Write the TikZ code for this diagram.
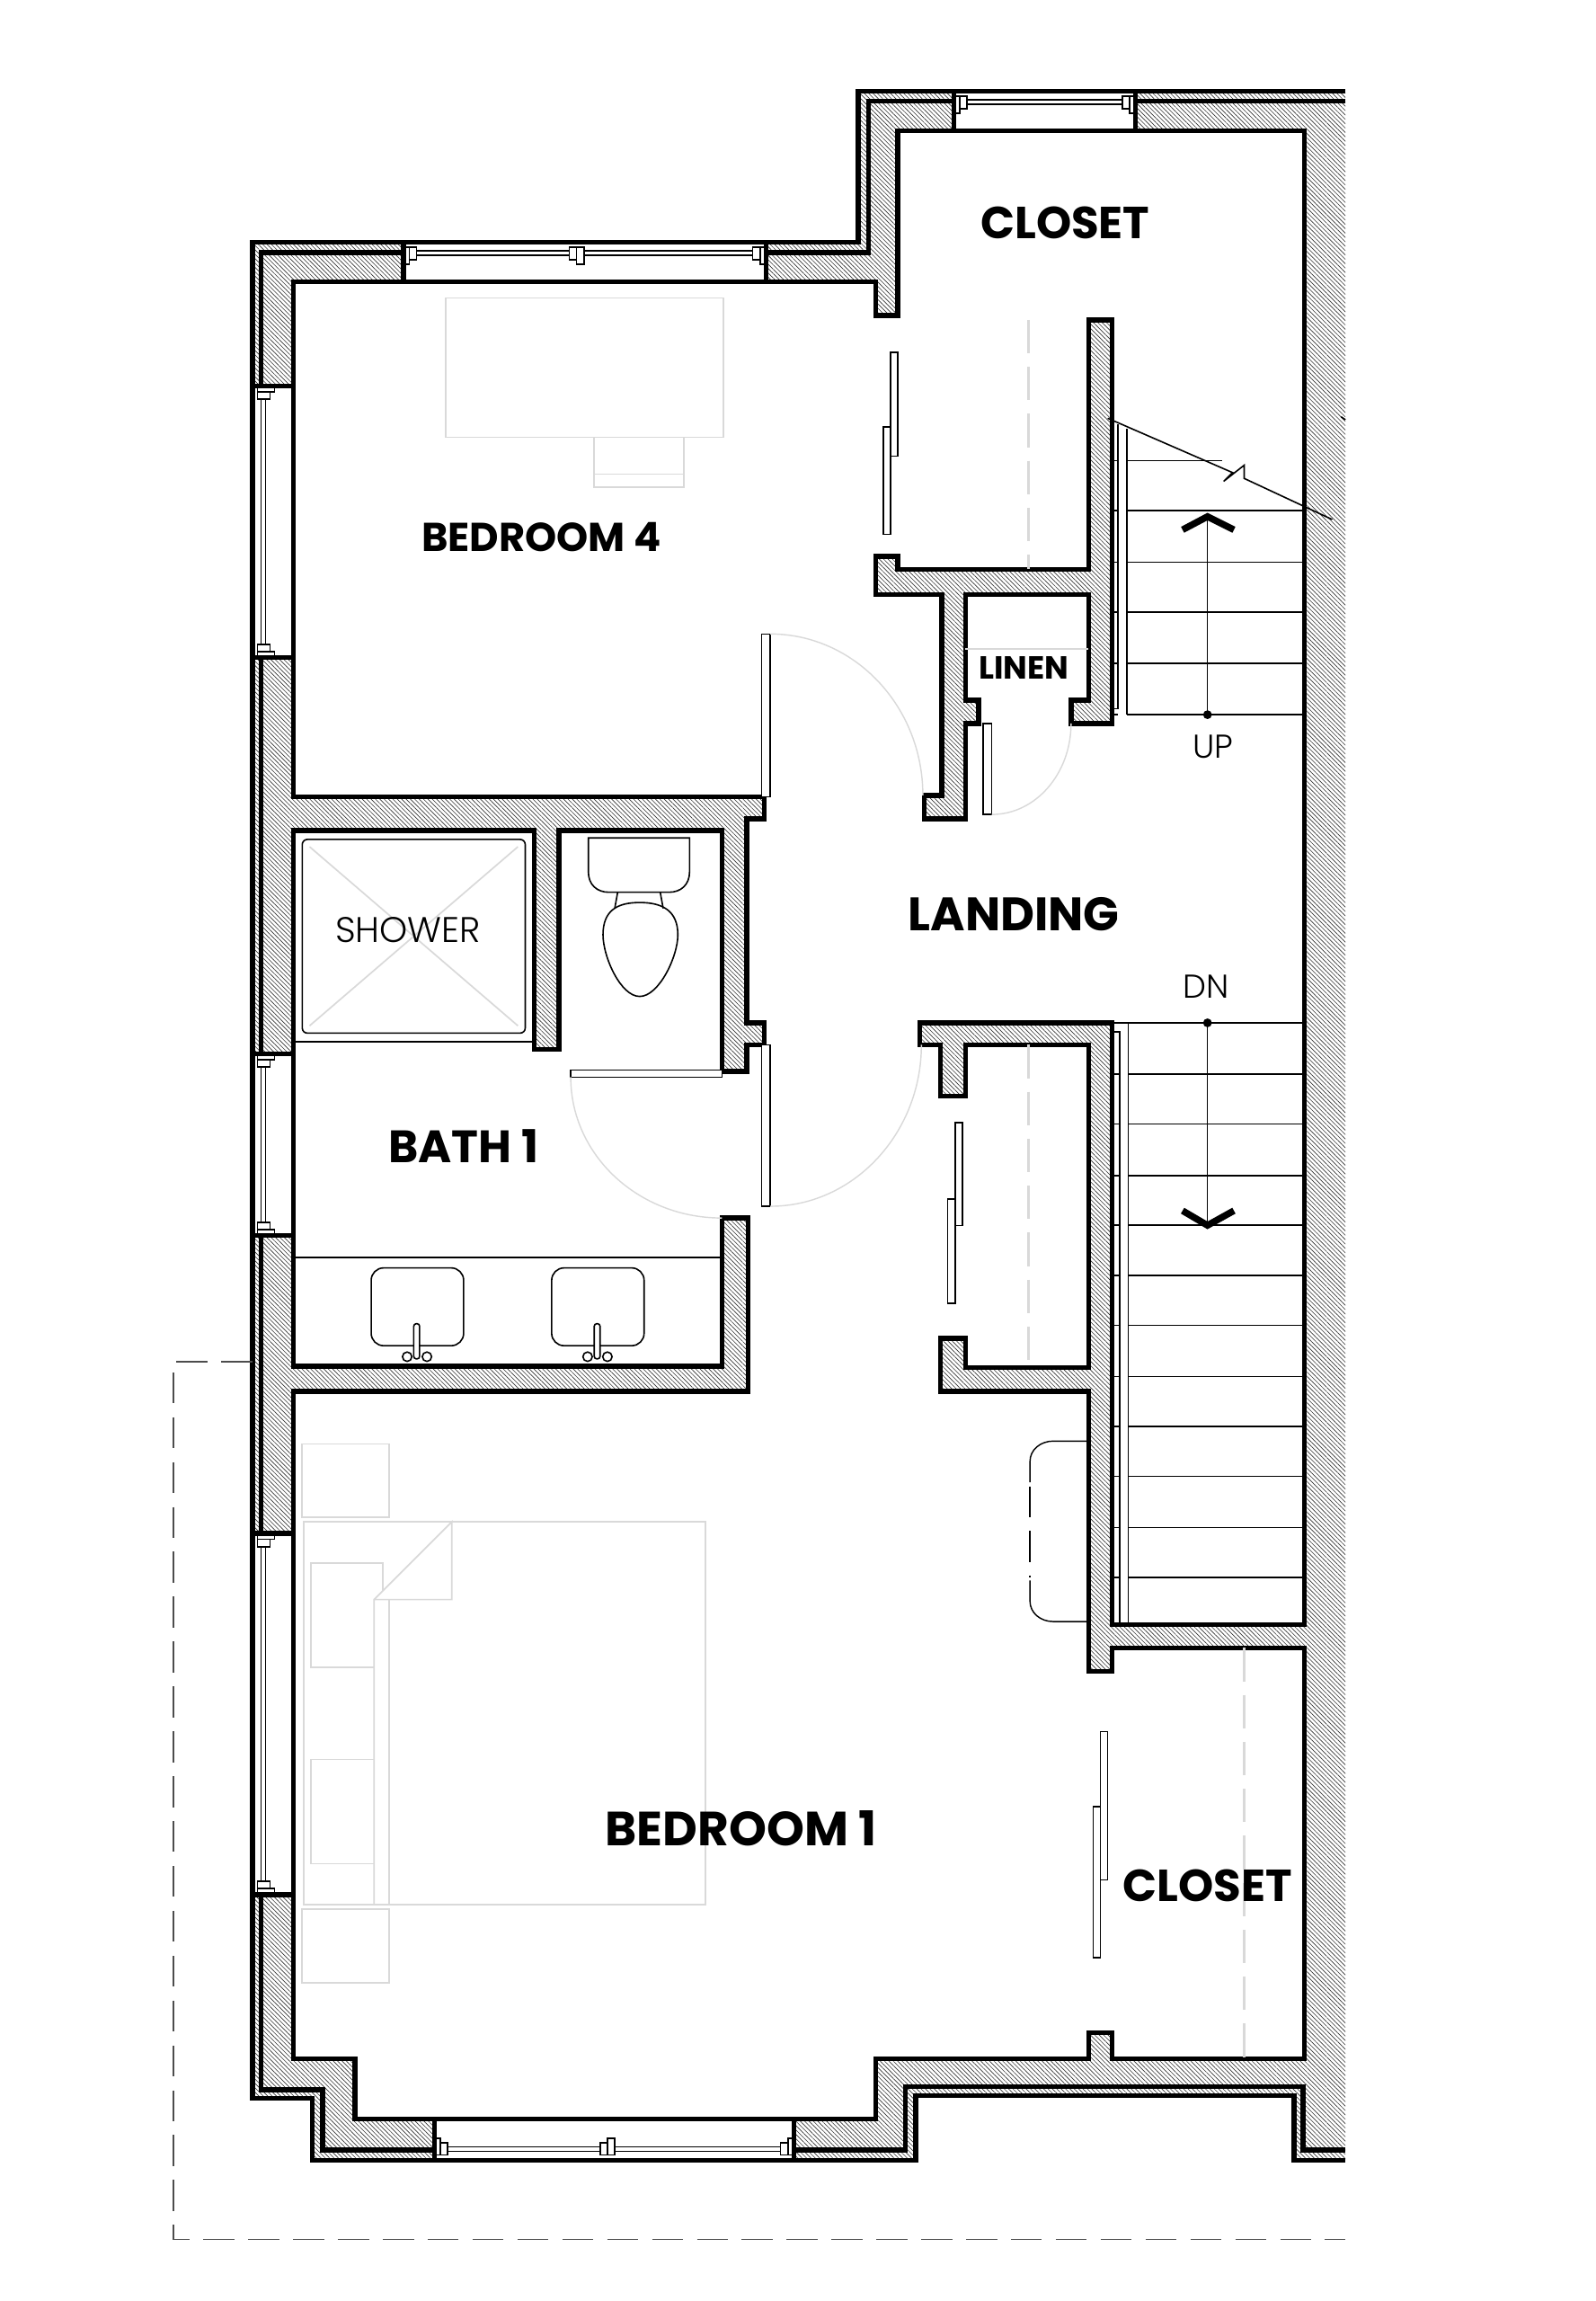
\documentclass[tikz,border=0pt]{standalone}
\usepackage{fontspec}
\setmainfont{Poppins}
\newfontfamily\tagfont{Poppins Light}
\usetikzlibrary{patterns.meta}
\definecolor{faint}{gray}{0.85}
\newcommand{\outerline}{(917,62) -- (585,62) -- (585,165) -- (172,165) -- (172,1430) -- (213,1430) -- (213,1472) -- (624,1472) -- (624,1428) -- (882,1428) -- (882,1472) -- (917,1472)}
\newcommand{\roomline}{(200,192) -- (597,192) -- (597,215) -- (612,215) -- (612,89) -- (889,89) -- (889,1107) -- (758,1107) -- (758,697) -- (627,697) -- (627,712) -- (641,712) -- (641,747) -- (658,747) -- (658,712) -- (742,712) -- (742,932) -- (658,932) -- (658,912) -- (641,912) -- (641,948) -- (742,948) -- (742,1139) -- (758,1139) -- (758,1123) -- (889,1123) -- (889,1403) -- (758,1403) -- (758,1385) -- (742,1385) -- (742,1403) -- (597,1403) -- (597,1444) -- (242,1444) -- (242,1403) -- (200,1403) -- (200,948) -- (510,948) -- (510,830) -- (492,830) -- (492,931) -- (200,931) -- (200,566) -- (364,566) -- (364,715) -- (381,715) -- (381,566) -- (492,566) -- (492,730) -- (509,730) -- (509,712) -- (521,712) -- (521,697) -- (509,697) -- (509,558) -- (521,558) -- (521,543) -- (200,543) -- cycle}
\newcommand{\linenline}{(597,379) -- (612,379) -- (612,388) -- (742,388) -- (742,218) -- (758,218) -- (758,493) -- (730,493) -- (730,477) -- (742,477) -- (742,405) -- (658,405) -- (658,477) -- (667,477) -- (667,493) -- (658,493) -- (658,558) -- (630,558) -- (630,542) -- (642,542) -- (642,405) -- (597,405) -- cycle}
\newcommand{\winframes}[1]{
                \draw[frame] (9,6) rectangle (#1-9,9);
                \draw[frame] (0,3.5) rectangle (4,15);
                \draw[frame] (4,3.5) rectangle (9,12);
                \draw[frame] (#1-4,3.5) rectangle (#1,15);
                \draw[frame] (#1-9,3.5) rectangle (#1-4,12);
}
\newcommand{\winmid}[1]{
                \draw[frame] (#1-5,3.5) rectangle (#1,12);
                \draw[frame] (#1,3.5) rectangle (#1+5,15);
}
\begin{document}
\begin{tikzpicture}[x=.1mm,y=-.1mm,
        wall/.style={line width=.95pt},
        hatch/.style={pattern={Lines[angle=135,distance=.6pt,line width=.11pt]},pattern color=black!80},
        frame/.style={draw,fill=white,line width=.28pt},
        thin line/.style={line width=.28pt},
        soft/.style={draw=faint,line width=.3pt},
        rod/.style={draw=faint,line width=.4pt,dash pattern=on 6.5pt off 2.6pt},
        leaf/.style={draw,fill=white,line width=.25pt},
        swing/.style={draw=faint,line width=.25pt},
        room/.style={font=\bfseries\fontsize{8.7}{11}\selectfont,inner sep=0pt},
        tag/.style={font=\tagfont\fontsize{6.4}{8}\selectfont,inner sep=0pt}]
                \useasboundingbox (0,0) rectangle (1087.5,1568);
                \fill[hatch,even odd rule] \outerline -- cycle \roomline \linenline;
                \fill[white] (275,165) rectangle (522,192);
                \fill[white] (650,62) rectangle (774,89);
                \fill[white] (172,263) rectangle (200,448);
                \fill[white] (172,718) rectangle (200,842);
                \fill[white] (172,1045) rectangle (200,1291);
                \fill[white] (296,1444) rectangle (541,1472);
                \begin{scope}[shift={(275,165)}]
                \winframes{247}
                \winmid{118}
                \end{scope}
                \begin{scope}[shift={(650,62)}]
                \winframes{124}
                \end{scope}
                \begin{scope}[shift={(296,1472)},y={(0mm,.1mm)}]
                \winframes{245}
                \winmid{118}
                \end{scope}
                \foreach \ystart/\ylen in {263/185,718/124,1045/246}{
                \begin{scope}[shift={(172,\ystart)},x={(0mm,-.1mm)},y={(.1mm,0mm)}]
                \winframes{\ylen}
                \end{scope}
                }
                \draw[wall] \outerline;
                \draw[wall] \roomline \linenline;
                \draw[wall] (917,69) -- (774,69) (650,69) -- (592,69) -- (592,172) -- (522,172) (275,172) -- (178,172) -- (178,263) (178,448) -- (178,718) (178,842) -- (178,1045) (178,1291) -- (178,1424) -- (220,1424) -- (220,1465) -- (296,1465) (541,1465) -- (617,1465) -- (617,1422) -- (888,1422) -- (888,1465) -- (917,1465);
                \draw[wall] (275,165) -- (275,192) (522,165) -- (522,192) (650,62) -- (650,89) (774,62) -- (774,89) (296,1444) -- (296,1472) (541,1444) -- (541,1472);
                \draw[wall] (172,263) -- (200,263) (172,448) -- (200,448) (172,718) -- (200,718) (172,842) -- (200,842) (172,1045) -- (200,1045) (172,1291) -- (200,1291);
                \foreach \treadY in {348,383,417,452,487}{
                \draw[thin line] (758,\treadY) -- (762,\treadY) (768,\treadY) -- (889,\treadY);
                }
                \draw[thin line] (758,314) -- (762,314) (768,314) -- (833,314);
                \foreach \treadY in {732,766,801,835,869,903,938,972,1006,1041,1075}{
                \draw[thin line] (758,\treadY) -- (763,\treadY) (769,\treadY) -- (889,\treadY);
                }
                \draw[thin line] (758,697) -- (889,697);
                \draw[thin line] (762,289) -- (762,483) -- (758,483) (768,292) -- (768,487);
                \draw[thin line] (758,703) -- (763,703) -- (763,1107) (769,697) -- (769,1107);
                \draw[thin line] (755,285) -- (840,322) -- (834,328) -- (848,317) -- (848,326) -- (908,354);
                \draw[thin line] (914,284) -- (917,286);
                \coordinate (upfoot) at (823,487);
                \coordinate (uphead) at (823,352);
                \coordinate (dnfoot) at (823,697);
                \coordinate (dnhead) at (823,835);
                \draw[thin line] (upfoot) -- (uphead);
                \draw[thin line] (dnfoot) -- (dnhead);
                \fill (upfoot) circle (3);
                \fill (dnfoot) circle (3);
                \draw[line width=1.3pt] (806,361) -- (uphead) -- (841,361);
                \draw[line width=1.3pt] (806,825) -- (dnhead) -- (841,825);
                \node[tag] (up) at (827,509) {UP};
                \node[tag] (dn) at (822,672) {DN};
                \draw[leaf] (519,432) rectangle (525,543);
                \draw[swing] (525,432) .. controls (582,432) and (629,481) .. (629,542);
                \draw[leaf] (519,712) rectangle (525,822);
                \draw[swing] (525,822) .. controls (582,822) and (628,772) .. (628,712);
                \draw[leaf] (389,729) rectangle (492,734);
                \draw[swing] (389,734) .. controls (389,787) and (435,830) .. (492,830);
                \draw[leaf] (670,493) rectangle (676,555);
                \draw[swing] (676,555) .. controls (706,555) and (730,527) .. (730,493);
                \draw[leaf] (607,240) rectangle (612,311);
                \draw[leaf] (602,291) rectangle (607,364);
                \draw[leaf] (651,765) rectangle (656,835);
                \draw[leaf] (646,817) rectangle (651,888);
                \draw[leaf] (750,1180) rectangle (755,1281);
                \draw[leaf] (745,1231) rectangle (750,1334);
                \draw[rod] (701,218) -- (701,388);
                \draw[rod] (701,712) -- (701,932);
                \draw[rod] (848,1123) -- (848,1403);
                \draw[soft] (658,442) -- (742,442);
                \draw[soft] (304,203) rectangle (493,298);
                \draw[soft] (405,298) rectangle (466,332);
                \draw[soft] (405,323) -- (466,323);
                \draw[soft] (206,984) rectangle (265,1034);
                \draw[soft] (206,1301) rectangle (265,1351);
                \draw[soft] (207,1037) rectangle (481,1298);
                \draw[soft] (255,1090) -- (308,1037) -- (308,1090) -- (255,1090) -- (255,1298);
                \draw[soft] (265,1090) -- (265,1298);
                \draw[soft] (255,1136) -- (212,1136) -- (212,1065) -- (261,1065) -- (261,1084);
                \draw[soft] (255,1199) -- (212,1199) -- (212,1270) -- (255,1270);
                \draw[thin line] (200,710) -- (364,710);
                \draw[thin line,rounded corners=1pt] (206,572) rectangle (358,704);
                \draw[soft] (211,577) -- (353,699) (353,577) -- (211,699);
                \node[tag,font=\tagfont\fontsize{6.9}{8}\selectfont] (shower) at (278,634) {SHOWER};
                \draw[thin line] (401,571) -- (470,571) -- (470,594) .. controls (470,603) and (464,608) .. (456,608) -- (415,608) .. controls (407,608) and (401,603) .. (401,594) -- cycle;
                \draw[thin line] (421,608) -- (419,619) (450,608) -- (452,619);
                \draw[thin line] (436,615) .. controls (452,615) and (462,621) .. (462,637) .. controls (462,652) and (449,679) .. (436,679) .. controls (423,679) and (411,652) .. (411,637) .. controls (411,621) and (420,615) .. (436,615) -- cycle;
                \draw[thin line] (200,857) -- (492,857);
                \foreach \sinkX in {253,376}{
                \draw[thin line,rounded corners=2.4pt] (\sinkX,864) rectangle ++(63,53);
                \draw[thin line,fill=white,rounded corners=.5pt] (\sinkX+29,902) rectangle ++(4,24);
                \draw[thin line] (\sinkX+24.5,924.5) circle (3.2);
                \draw[thin line] (\sinkX+38,924.5) circle (3.2);
                }
                \draw[line width=.25pt] (742,982) -- (718,982) .. controls (709,982) and (702,988) .. (702,996) -- (702,1010);
                \draw[line width=.25pt] (742,1105) -- (718,1105) .. controls (709,1105) and (702,1099) .. (702,1091) -- (702,1077);
                \draw[line width=.25pt,dash pattern=on 6pt off 2.6pt] (702,1013) -- (702,1075);
                \draw[draw=black!70,line width=.3pt,dash pattern=on 6pt off 2.7pt] (172,928) -- (118,928) -- (118,1526) -- (917,1526);
                \node[room,font=\bfseries\fontsize{7.8}{10}\selectfont] (bedfour) at (369,366) {BEDROOM 4};
                \node[room] (closetup) at (726,152) {CLOSET};
                \node[room,font=\bfseries\fontsize{6.2}{8}\selectfont] (linen) at (698,455) {LINEN};
                \node[room,font=\bfseries\fontsize{9.1}{11}\selectfont] (landing) at (691,623) {LANDING};
                \node[room,font=\bfseries\fontsize{8.8}{11}\selectfont] (bath) at (316,781) {BATH 1};
                \node[room,font=\bfseries\fontsize{9.3}{11}\selectfont] (bedone) at (505,1246) {BEDROOM 1};
                \node[room] (closetdown) at (823,1285) {CLOSET};
            \end{tikzpicture}
\end{document}
